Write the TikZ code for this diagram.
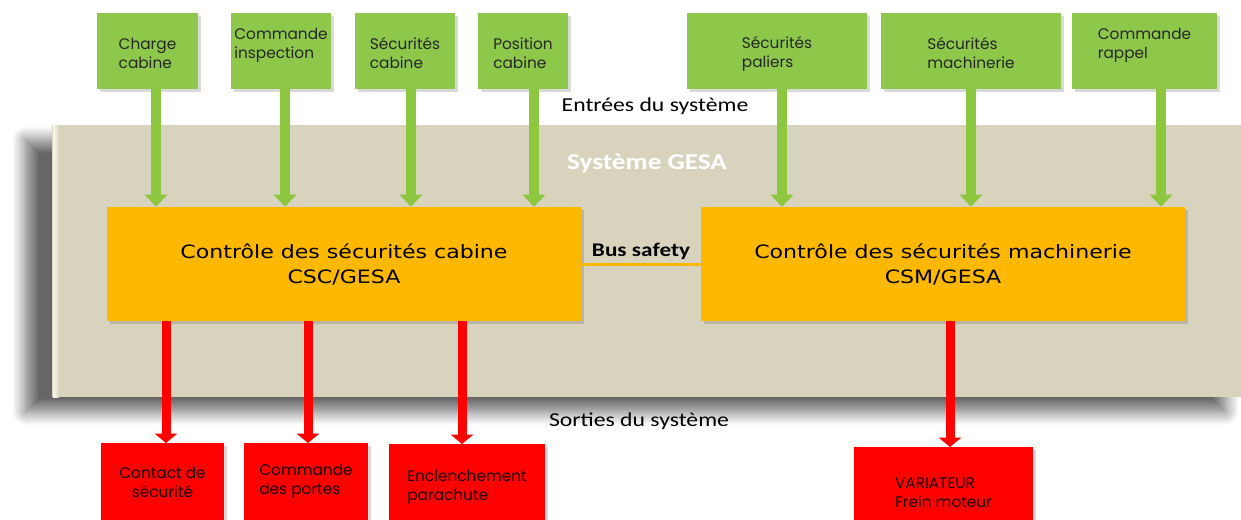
\documentclass[tikz,border=0pt]{standalone}
\usepackage{fontspec}
\setmainfont{Carlito}[FakeStretch=1.2]
\newfontfamily\boxfont{Poppins}
\newfontfamily\ctlfont{DejaVu Sans}[FakeStretch=1.2]
\usetikzlibrary{arrows.meta,shadows,shadows.blur}

\def\pxu{0.75pt}
\definecolor{sysgray}{RGB}{216,211,189}
\definecolor{gfill}{RGB}{141,200,74}
\definecolor{garrowc}{RGB}{141,198,63}
\definecolor{ofill}{RGB}{255,184,0}
\definecolor{rfill}{RGB}{255,0,0}
\definecolor{edge}{RGB}{250,248,236}

\tikzset{
  sysbox/.style={fill=sysgray, inner sep=0pt,
    blur shadow={shadow xshift=-20pt, shadow yshift=-11pt, shadow blur radius=10pt,
      shadow blur steps=20, shadow opacity=60}},
  gbox/.style={fill=gfill, inner sep=0pt, minimum height=76*\pxu,
    drop shadow={shadow xshift=2pt, shadow yshift=-2pt, opacity=0.3}},
  gtxt/.style={font=\boxfont\fontsize{11.5}{14.25}\selectfont, align=left, text=black!85, inner sep=0pt},
  rbox/.style={fill=rfill, inner sep=0pt, minimum height=78*\pxu, anchor=north,
    drop shadow={shadow xshift=2pt, shadow yshift=-2pt, opacity=0.3}},
  rtxt/.style={font=\boxfont\fontsize{11.5}{14}\selectfont, text=black!90!red, inner sep=0pt},
  ctl/.style={fill=ofill, inner sep=0pt, minimum height=114*\pxu, align=center,
    font=\ctlfont\fontsize{13.8}{18.75}\selectfont,
    drop shadow={shadow xshift=2pt, shadow yshift=-2pt, opacity=0.35}},
  lbl/.style={font=\fontsize{14.8}{18}\selectfont, inner sep=0pt},
  titre/.style={font=\bfseries\fontsize{17}{20}\selectfont, text=white, inner sep=0pt},
  bus/.style={draw=ofill, line width=3*\pxu},
  bustxt/.style={font=\bfseries\fontsize{14.5}{17}\selectfont, inner sep=2pt},
  garrow/.style={draw=garrowc, line width=7.5pt, -{Triangle[width=16.5pt, length=9pt]}},
  rarrow/.style={draw=rfill, line width=6.75pt, -{Triangle[width=16.5pt, length=7pt]}}
}

\begin{document}
\begin{tikzpicture}[x=\pxu, y=-\pxu]
  \useasboundingbox (0,0) rectangle (1241,519);

  % le cadre du systeme
  \node[sysbox, minimum width=1200*\pxu, minimum height=272*\pxu, anchor=north west] (gesa) at (52,125) {};
  \shade[left color=edge, right color=sysgray] ([xshift=1*\pxu]gesa.north west) rectangle ([xshift=7*\pxu]gesa.south west);
  \node[titre] (titre) at (647,163) {Système GESA};
  \node[lbl] (entrees) at (655,106) {Entrées du système};
  \node[lbl] (sorties) at (639,421) {Sorties du système};

  % les deux controleurs
  \node[ctl, minimum width=474*\pxu] (csc) at (344,264) {Contrôle des sécurités cabine\\CSC/GESA};
  \node[ctl, minimum width=484*\pxu] (csm) at (943,264) {Contrôle des sécurités machinerie\\CSM/GESA};
  \draw[bus] (csc.east) -- (csm.west) node[bustxt, midway, above] (busl) {Bus safety};

  % entrees
  \foreach \n/\x/\w/\dy/\dx/\txt/\tg in {
      g1/147.5/101/-2.5/8.5/{Charge\\cabine}/csc,
      g2/281/100/6/4/{Commande\\inspection}/csc,
      g3/405/100/-2.5/6/{Sécurités\\cabine}/csc,
      g4/523/90/-2.5/11/{Position\\cabine}/csc,
      g5/777/180/-2.5/5/{Sécurités\\paliers}/csm,
      g6/971/180/-2.5/0/{Sécurités\\machinerie}/csm,
      g7/1144.5/145/6/16.5/{Commande\\rappel}/csm} {
    \node[gbox, minimum width=\w*\pxu] (\n) at (\x,51) {};
    \node[gtxt] (\n t) at ([yshift=\dy*\pxu]\n.center) {\txt};
    \draw[garrow] ([xshift=\dx*\pxu]\n.south) -- ([xshift=\dx*\pxu]\n.south |- \tg.north);
  }

  % sorties
  \foreach \n/\x/\y/\w/\dy/\dx/\al/\txt/\src in {
      r1/162.5/443/123/0/-178/center/{Contact de\\sécurité}/csc,
      r2/306/443/124/1/-36/left/{Commande\\des portes}/csc,
      r3/467/444/156/-4/118/left/{Enclenchement\\parachute}/csc,
      r4/943.5/447/179/-6.5/7/left/{VARIATEUR\\Frein moteur}/csm} {
    \node[rbox, minimum width=\w*\pxu] (\n) at (\x,\y) {};
    \node[rtxt, align=\al] (\n t) at ([yshift=\dy*\pxu]\n.center) {\txt};
    \draw[rarrow] ([xshift=\dx*\pxu]\src.south) -- ([xshift=\dx*\pxu]\src.south |- \n.north);
  }
\end{tikzpicture}
\end{document}
